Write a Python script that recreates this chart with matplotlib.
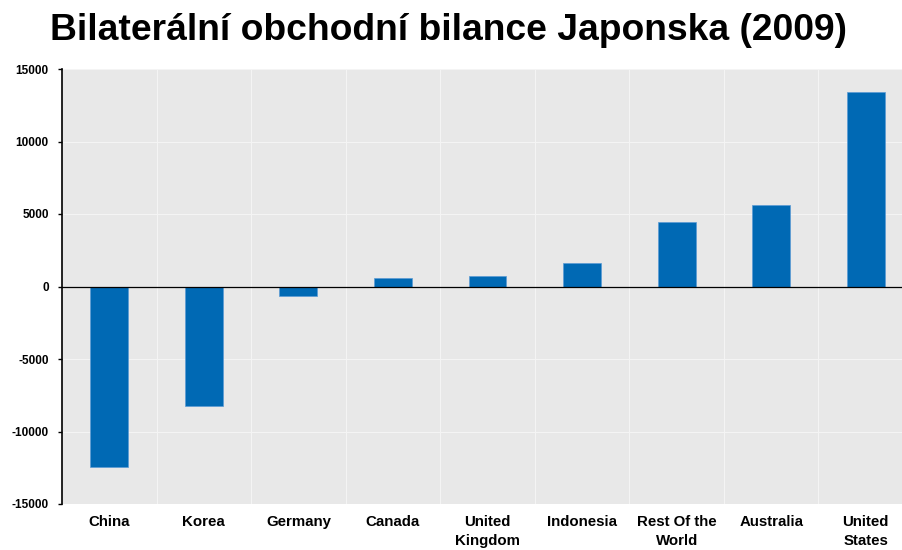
import matplotlib
matplotlib.use("Agg")
import matplotlib.pyplot as plt
import numpy as np

countries = ["China", "Korea", "Germany", "Canada", "United\nKingdom",
             "Indonesia", "Rest Of the\nWorld", "Australia", "United\nStates"]
balance = [-12450, -8250, -650, 620, 720, 1600, 4450, 5600, 13400]
yticks = [-15000, -10000, -5000, 0, 5000, 10000, 15000]

BLUE = "#0069b4"
BG = "#e8e8e8"

plt.rcParams["font.family"] = ["Liberation Sans", "DejaVu Sans"]

fig = plt.figure(figsize=(9.03, 5.5), dpi=100)
ax = fig.add_axes([62 / 903, 1 - 504 / 550, 851 / 903, 435 / 550])
ax.set_facecolor(BG)

x = np.arange(len(countries))
ax.bar(x, balance, width=0.4, color=BLUE, edgecolor="#5b9bd5", linewidth=0.5, zorder=3)

ax.set_xlim(-0.5, len(countries) - 0.5)
ax.set_ylim(-15000, 15000)
ax.set_yticks(yticks)
ax.set_yticklabels([str(v) for v in yticks], fontsize=8.5, fontweight="bold")
ax.set_xticks(x)
ax.set_xticklabels(countries, fontsize=10.8, fontweight="bold", linespacing=1.45)
ax.tick_params(axis="x", length=0, pad=8)
ax.tick_params(axis="y", length=3, width=1, pad=6.5)

# grid: horizontal at ticks, vertical between categories
for v in yticks:
    ax.axhline(v, color="#f4f4f4", linewidth=0.8, zorder=1)
for b in np.arange(0.5, len(countries) - 0.5, 1):
    ax.axvline(b, color="#f4f4f4", linewidth=0.8, zorder=1)
ax.axhline(0, color="black", linewidth=0.9, zorder=4)

for s in ["top", "right", "bottom"]:
    ax.spines[s].set_visible(False)
ax.spines["left"].set_linewidth(1.2)

fig.text(50 / 903, 1 - 30 / 550, "Bilaterální obchodní bilance Japonska (2009)",
         fontsize=26.8, fontweight="bold", ha="left", va="center")

fig.savefig("out.png", dpi=100, facecolor="white")
